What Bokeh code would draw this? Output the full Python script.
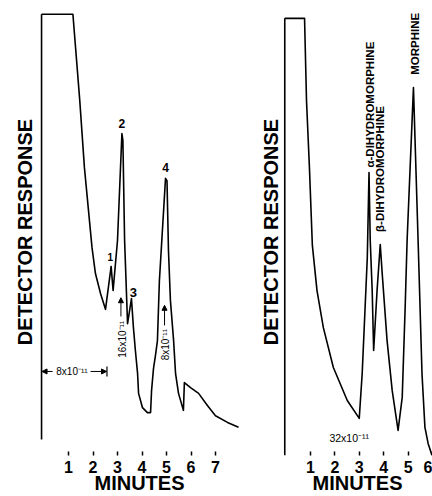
import math
from bokeh.plotting import figure
from bokeh.layouts import row
from bokeh.models import Range1d, FixedTicker, Arrow, NormalHead, ColumnDataSource
from bokeh.core.properties import value
from bokeh.embed import file_html
from bokeh.resources import INLINE

FONT = "Liberation Sans"

# ---- data: left chromatogram (time in minutes, detector response, arbitrary units)
left_time = [-0.10, 1.18, 1.46, 1.65, 1.96, 2.10, 2.31, 2.51, 2.74, 2.82, 3.00, 3.18, 3.22,
             3.29, 3.41, 3.57, 3.65, 3.73, 3.82, 3.86, 4.02, 4.22, 4.35, 4.39, 4.47, 4.55,
             4.63, 4.71, 4.96, 5.02, 5.08, 5.16, 5.29, 5.37, 5.49, 5.69, 5.73, 5.98, 6.31,
             6.67, 7.00, 7.49, 7.94]
left_resp = [98.7, 98.7, 79.4, 64.4, 46.5, 40.7, 36.2, 32.7, 42.3, 36.9, 48.1, 72.0, 70.5,
             48.1, 29.5, 35.1, 28.6, 23.5, 18.3, 13.9, 10.7, 9.6, 9.6, 14.5, 19.5, 22.4,
             25.7, 39.1, 62.0, 61.5, 45.9, 34.7, 25.7, 18.3, 13.9, 10.1, 16.3, 15.2, 13.9,
             11.2, 8.9, 7.4, 6.3]
left_axis_time = -0.10
left_axis_resp = [3.6, 98.7]

left_peak_text = ["1", "2", "3", "4"]
left_peak_time = [2.71, 3.18, 3.65, 4.96]
left_peak_resp = [44.5, 74.3, 36.5, 64.4]
left_peak_size = ["10px", "12px", "13px", "12px"]

left_att_text = ["16x10\u207b\u00b9\u00b9", "8x10\u207b\u00b9\u00b9"]
left_att_time = [3.20, 4.96]
left_att_resp = [26.0, 24.8]
left_att_arrow_time = [3.14, 4.92]
left_att_arrow_from = [31.1, 29.1]
left_att_arrow_to = [35.3, 33.6]

left_range_text = "8x10\u207b\u00b9\u00b9"
left_range_time = 1.14
left_range_resp = 18.8
left_range_left = [0.35, -0.08]
left_range_right = [1.90, 2.55]
left_range_bar = [17.7, 19.9]

# ---- data: right chromatogram
right_time = [-0.05, 0.76, 0.84, 0.96, 1.08, 1.27, 1.53, 1.94, 2.51, 3.00, 3.12, 3.24, 3.33,
              3.40, 3.45, 3.53, 3.59, 3.73, 3.86, 3.94, 4.14, 4.35, 4.59, 4.76, 4.88, 4.96,
              5.22, 5.41, 5.57, 5.69, 5.82, 5.98]
right_resp = [97.8, 97.8, 79.4, 64.4, 47.0, 36.9, 28.6, 19.7, 12.3, 8.3, 18.3, 33.1, 44.3,
              63.3, 48.1, 36.9, 23.5, 36.9, 47.2, 40.7, 25.7, 14.5, 5.6, 13.0, 33.1, 48.1,
              82.3, 48.1, 18.3, 6.3, 2.7, 0.0]
right_axis_time = -0.05
right_axis_resp = [0.0, 97.8]

right_peak_text = ["\u03b1-DIHYDROMORPHINE", "\u03b2-DIHYDROMORPHINE", "MORPHINE"]
right_peak_time = [3.43, 3.84, 5.27]
right_peak_resp = [78.5, 64.1, 92.1]

right_att_text = "32x10\u207b\u00b9\u00b9"
right_att_time = 2.59
right_att_resp = 3.9

left_ticks = [1, 2, 3, 4, 5, 6, 7]
right_ticks = [1, 2, 3, 4, 5, 6]


def make_fig(width, border_left, x_start, x_end, ticks, ylabel_standoff):
    p = figure(width=width, height=496, x_range=Range1d(x_start, x_end),
               y_range=Range1d(0, 100), output_backend="svg", toolbar_location=None,
               min_border_left=border_left, min_border_right=0, min_border_top=8,
               min_border_bottom=41)
    p.grid.visible = False
    p.outline_line_color = None
    p.background_fill_color = "white"
    p.border_fill_color = "white"
    xa = p.xaxis[0]
    xa.ticker = FixedTicker(ticks=ticks)
    xa.axis_line_color = None
    xa.major_tick_in = 4
    xa.major_tick_out = 0
    xa.major_tick_line_width = 1.5
    xa.major_tick_line_color = "black"
    xa.minor_tick_line_color = None
    xa.major_label_standoff = 5
    xa.major_label_text_font = FONT
    xa.major_label_text_font_style = "bold"
    xa.major_label_text_font_size = "16px"
    xa.major_label_text_color = "black"
    xa.axis_label = "MINUTES"
    xa.axis_label_text_font = FONT
    xa.axis_label_text_font_style = "bold"
    xa.axis_label_text_font_size = "20px"
    xa.axis_label_text_color = "black"
    xa.axis_label_standoff = -4
    ya = p.yaxis[0]
    ya.ticker = FixedTicker(ticks=[])
    ya.axis_line_color = None
    ya.major_tick_in = 0
    ya.major_tick_out = 0
    ya.minor_tick_line_color = None
    ya.major_label_text_font_size = "0px"
    ya.axis_label = "DETECTOR RESPONSE"
    ya.axis_label_text_font = FONT
    ya.axis_label_text_font_style = "bold"
    ya.axis_label_text_font_size = "20px"
    ya.axis_label_text_color = "black"
    ya.axis_label_standoff = ylabel_standoff
    return p


def up_arrow(p, x, y0, y1):
    p.add_layout(Arrow(end=NormalHead(size=5, fill_color="black", line_color="black"),
                       x_start=x, y_start=y0, x_end=x, y_end=y1,
                       line_width=1, line_color="black"))


# ---------------- left panel
left = make_fig(240, 38, -0.2245, 8.0204, left_ticks, 3)
left.segment(x0=[left_axis_time], y0=[left_axis_resp[0]], x1=[left_axis_time],
             y1=[left_axis_resp[1]], line_color="black", line_width=1.6)
left.line(left_time, left_resp, line_color="black", line_width=1.6, line_join="round")
left.text(x="x", y="y", text="t", text_font_size="s",
          source=ColumnDataSource(dict(x=left_peak_time, y=left_peak_resp,
                                       t=left_peak_text, s=left_peak_size)),
          text_font=value(FONT), text_font_style="bold", text_color="black",
          text_align="center", text_baseline="middle")
left.text(x=left_att_time, y=left_att_resp, text=left_att_text, angle=math.pi / 2,
          text_font=value(FONT), text_font_size="10px", text_color="black",
          text_align="center", text_baseline="middle")
for x, a, b in zip(left_att_arrow_time, left_att_arrow_from, left_att_arrow_to):
    up_arrow(left, x, a, b)
left.text(x=[left_range_time], y=[left_range_resp], text=[left_range_text],
          text_font=value(FONT), text_font_size="10px", text_color="black",
          text_align="center", text_baseline="middle")
left.add_layout(Arrow(end=NormalHead(size=5, fill_color="black", line_color="black"),
                      x_start=left_range_left[0], y_start=left_range_resp,
                      x_end=left_range_left[1], y_end=left_range_resp,
                      line_width=1, line_color="black"))
left.add_layout(Arrow(end=NormalHead(size=5, fill_color="black", line_color="black"),
                      x_start=left_range_right[0], y_start=left_range_resp,
                      x_end=left_range_right[1], y_end=left_range_resp,
                      line_width=1, line_color="black"))
left.segment(x0=[left_range_right[1] + 0.02], y0=[left_range_bar[0]],
             x1=[left_range_right[1] + 0.02], y1=[left_range_bar[1]],
             line_color="black", line_width=1.2)

# ---------------- right panel
right = make_fig(192, 42, -0.143, 6.0, right_ticks, 1)
right.segment(x0=[right_axis_time], y0=[right_axis_resp[0]], x1=[right_axis_time],
              y1=[right_axis_resp[1]], line_color="black", line_width=1.6)
right.line(right_time, right_resp, line_color="black", line_width=1.6, line_join="round")
right.text(x=right_peak_time, y=right_peak_resp, text=right_peak_text, angle=math.pi / 2,
           text_font=value(FONT), text_font_style="bold", text_font_size="11.5px",
           text_color="black", text_align="center", text_baseline="middle")
right.text(x=[right_att_time], y=[right_att_resp], text=[right_att_text],
           text_font=value(FONT), text_font_size="10.5px", text_color="black",
           text_align="center", text_baseline="middle")

layout = row(left, right)
open("out.html", "w").write(file_html(layout, INLINE))
